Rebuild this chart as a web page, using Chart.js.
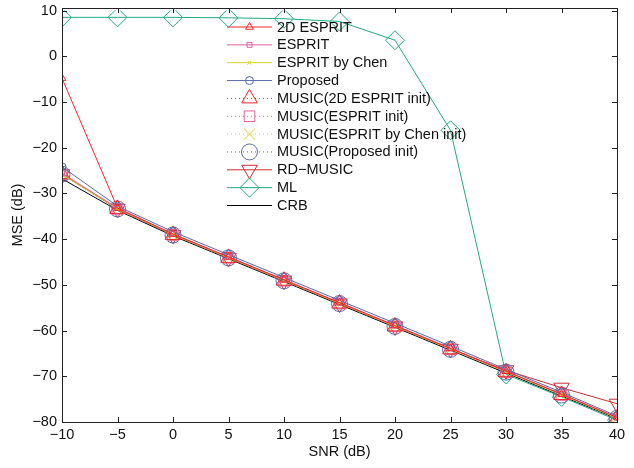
<!DOCTYPE html>
<html><head><meta charset="utf-8">
<script src="https://cdn.jsdelivr.net/npm/chart.js@4/dist/chart.umd.min.js"></script>
<style>html,body{margin:0;padding:0;background:#fff}#wrap{width:634px;height:468px}</style>
</head><body><div id="wrap"><canvas id="c"></canvas></div>
<script>
const snr = [-10,-5,0,5,10,15,20,25,30,35,40];
const xTicks = [-10,-5,0,5,10,15,20,25,30,35,40];
const yTicks = [10,0,-10,-20,-30,-40,-50,-60,-70,-80];
const esprit2d   = [-4.8,-33.2,-38.9,-43.9,-48.9,-53.9,-58.9,-63.9,-68.9,-73.9,-79.0];
const esprit     = [-25.6,-33.2,-38.9,-43.9,-48.9,-53.9,-58.9,-63.9,-68.9,-73.9,-79.0];
const espritChen = [-25.9,-33.3,-39.0,-44.0,-49.0,-54.0,-59.0,-64.0,-69.0,-74.0,-79.1];
const proposed   = [-24.2,-32.8,-38.4,-43.4,-48.4,-53.4,-58.4,-63.4,-68.5,-73.5,-78.7];
const musicE2d   = [-25.8,-33.4,-39.1,-44.1,-49.1,-54.1,-59.1,-64.1,-69.1,-74.1,-79.2];
const musicEsp   = [-25.8,-33.4,-39.1,-44.1,-49.1,-54.1,-59.1,-64.1,-69.1,-74.1,-79.2];
const musicChen  = [-25.8,-33.4,-39.1,-44.1,-49.1,-54.1,-59.1,-64.1,-69.1,-74.1,-79.2];
const musicProp  = [-25.8,-33.4,-39.1,-44.1,-49.1,-54.1,-59.1,-64.1,-69.1,-74.1,-79.2];
const rdMusic    = [-25.8,-33.4,-39.1,-44.1,-49.1,-54.1,-59.1,-64.0,-68.7,-72.5,-76.0];
const ml         = [8.5,8.5,8.5,8.4,8.2,7.6,3.5,-16.2,-69.6,-74.5,-79.6];
const crb        = [-26.8,-33.7,-39.3,-44.3,-49.3,-54.3,-59.3,-64.3,-69.3,-74.3,-79.3];
const names = ['2D ESPRIT','ESPRIT','ESPRIT by Chen','Proposed','MUSIC(2D ESPRIT init)','MUSIC(ESPRIT init)','MUSIC(ESPRIT by Chen init)','MUSIC(Proposed init)','RD\u2212MUSIC','ML','CRB'];

const FONT = 'Liberation Sans, Arial, Helvetica, sans-serif';
const FS = '14.5px ';
const clear = 'rgba(0,0,0,0)';
function ds(label, data, color, style, r, dash, rot){
  return {label, data: data.map((v,i)=>({x:snr[i], y:v})), borderColor: color, pointBorderColor: color,
    pointBackgroundColor: clear, backgroundColor: clear, borderWidth: 1, pointBorderWidth: 1,
    pointStyle: style, pointRadius: r, pointHoverRadius: r, pointRotation: rot||0,
    borderDash: dash||[], tension: 0, fill: false};
}
const dot=[1,3];
const datasets = [
  ds(names[0], esprit2d, '#f0282d', 'triangle', 4.5),
  ds(names[1], esprit, '#e4609c', 'rect', 3.5),
  ds(names[2], espritChen, '#d2d52a', 'crossRot', 3),
  ds(names[3], proposed, '#5a6aa8', 'circle', 4),
  ds(names[4], musicE2d, '#f0282d', 'triangle', 9, dot),
  ds(names[5], musicEsp, '#e4609c', 'rect', 7.5, dot),
  ds(names[6], musicChen, '#d2d52a', 'crossRot', 8, dot),
  ds(names[7], musicProp, '#5a6aa8', 'circle', 8, dot),
  ds(names[8], rdMusic, '#c8303a', 'triangle', 9, [], 180),
  ds(names[9], ml, '#22aa80', 'rectRot', 9.5),
  ds(names[10], crb, '#000000', false, 0),
];

const L=62, R=617, T=8, B=422;
const frame = {
  id:'frame',
  afterDraw(chart){
    const ctx=chart.ctx, xs=chart.scales.x, ys=chart.scales.y;
    ctx.save();
    ctx.strokeStyle='#222'; ctx.lineWidth=1;
    ctx.strokeRect(L+0.5,T+0.5,R-L,B-T);
    ctx.beginPath();
    xTicks.forEach(v=>{const p=Math.round(xs.getPixelForValue(v))+0.5;
      ctx.moveTo(p,B); ctx.lineTo(p,B-5); ctx.moveTo(p,T); ctx.lineTo(p,T+5);});
    yTicks.forEach(v=>{const p=Math.round(ys.getPixelForValue(v))+0.5;
      ctx.moveTo(L,p); ctx.lineTo(L+5,p); ctx.moveTo(R,p); ctx.lineTo(R-5,p);});
    ctx.stroke();
    ctx.fillStyle='#111'; ctx.font=FS+FONT;
    ctx.textAlign='center'; ctx.textBaseline='middle';
    xTicks.forEach(v=>{const p=xs.getPixelForValue(v); ctx.fillText(String(v).replace('-','\u2212'),p,B+13);});
    ctx.textAlign='right'; ctx.textBaseline='middle';
    yTicks.forEach(v=>{const p=ys.getPixelForValue(v); ctx.fillText(String(v).replace('-','\u2212'),L-5,p);});
    ctx.textAlign='center'; ctx.textBaseline='middle';
    ctx.fillText('SNR (dB)', (L+R)/2, 452);
    ctx.translate(18,(T+B)/2); ctx.rotate(-Math.PI/2); ctx.fillText('MSE (dB)',0,0);
    ctx.restore();
    // legend
    ctx.save();
    ctx.font=FS+FONT; ctx.textAlign='left'; ctx.textBaseline='middle';
    chart.data.datasets.forEach((d,i)=>{
      const y = 26.5 + i*17.85;
      ctx.strokeStyle=d.borderColor; ctx.lineWidth=1; ctx.setLineDash(d.borderDash);
      ctx.beginPath(); ctx.moveTo(227,y+0.5); ctx.lineTo(272,y+0.5); ctx.stroke();
      ctx.setLineDash([]);
      if(d.pointStyle){
        ctx.fillStyle=clear; ctx.strokeStyle=d.borderColor;
        Chart.helpers.drawPoint(ctx,{pointStyle:d.pointStyle,radius:d.pointRadius,rotation:d.pointRotation,borderWidth:1},249.5,y+0.5);
      }
      ctx.fillStyle='#111'; ctx.fillText(d.label,277,y+1);
    });
    ctx.restore();
  }
};

new Chart(document.getElementById('c'),{
  type:'line',
  data:{datasets},
  options:{
    responsive:true, maintainAspectRatio:false, animation:false,
    layout:{padding:{left:0,right:634-R,top:T,bottom:0}},
    plugins:{legend:{display:false},tooltip:{enabled:false}},
    scales:{
      x:{type:'linear',min:-10,max:40,grid:{display:false},border:{display:false},
         ticks:{display:false},afterFit(s){s.height=468-B;}},
      y:{type:'linear',min:-80,max:10,grid:{display:false},border:{display:false},
         ticks:{display:false},afterFit(s){s.width=L;}}
    }
  },
  plugins:[frame]
});
</script></body></html>
